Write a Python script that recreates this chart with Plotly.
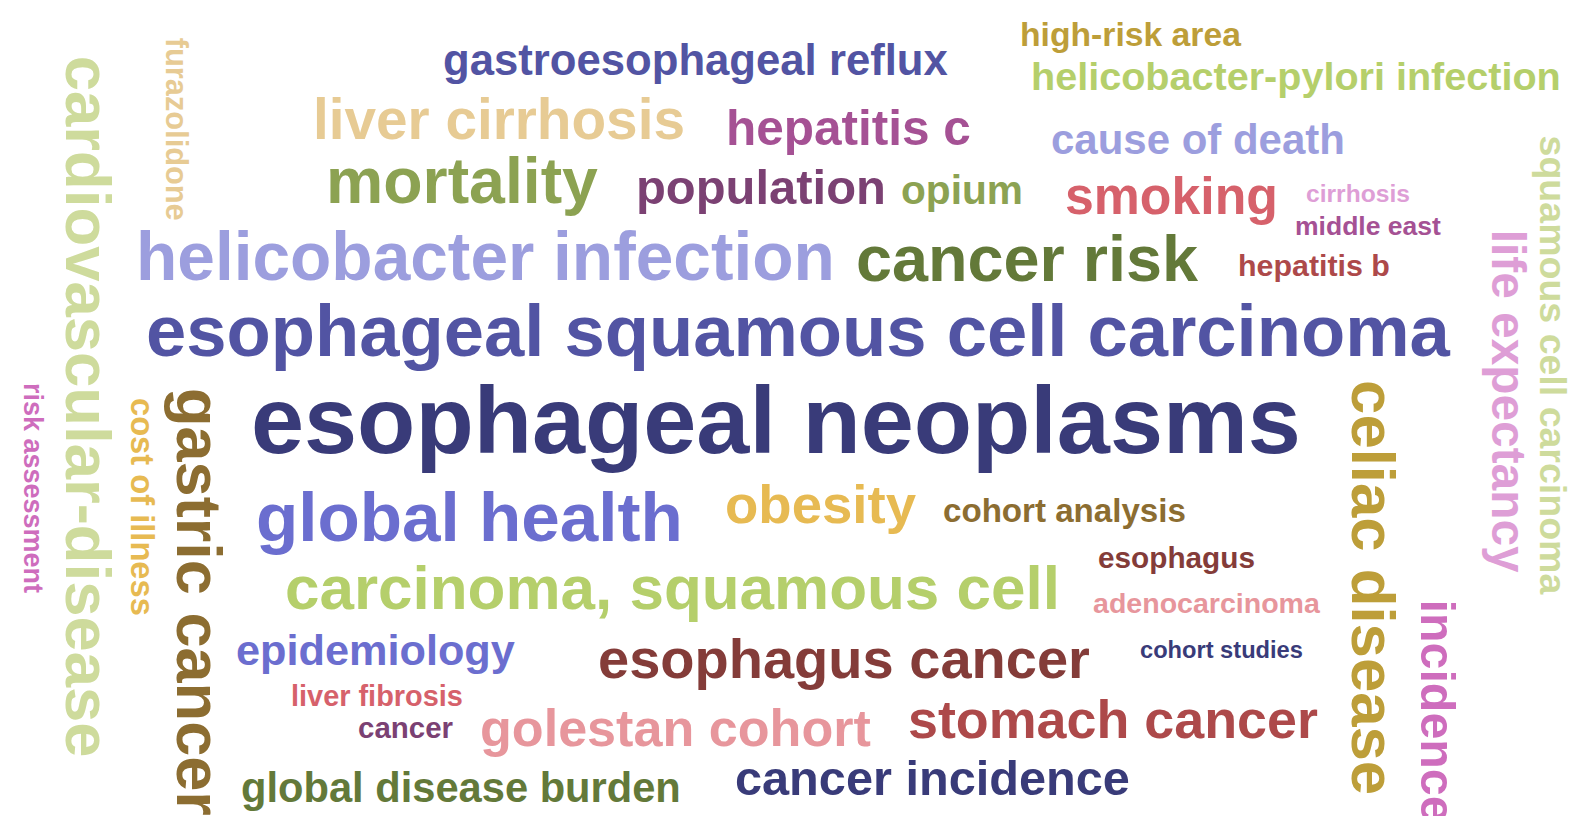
import plotly.graph_objects as go

# ---- data: keywords and their relative weights (word-cloud sizes) ----
words = [
    "esophageal neoplasms", "esophageal squamous cell carcinoma", "helicobacter infection",
    "cancer risk", "global health", "carcinoma, squamous cell", "esophagus cancer",
    "stomach cancer", "golestan cohort", "cancer incidence", "global disease burden",
    "epidemiology", "liver fibrosis", "cancer", "obesity", "cohort analysis", "esophagus",
    "adenocarcinoma", "cohort studies", "gastroesophageal reflux", "liver cirrhosis",
    "mortality", "hepatitis c", "population", "opium", "high-risk area",
    "helicobacter-pylori infection", "cause of death", "smoking", "cirrhosis",
    "middle east", "hepatitis b",
    "cardiovascular-disease", "furazolidone", "gastric cancer", "cost of illness",
    "risk assessment", "celiac disease", "life expectancy", "squamous cell carcinoma",
    "incidence",
]
weights = [
    86, 65, 59, 61, 62, 57, 45, 50, 44, 42, 38, 32, 27, 23, 48, 28, 26, 22, 20, 39, 50,
    55, 45, 45, 34, 30, 35, 39, 48, 22, 23, 25,
    57, 30, 52, 28, 22, 53, 43, 36, 43,
]
colors = [
    "#393b79", "#5254a3", "#9c9ede", "#637939", "#6b6ecf", "#b5cf6b", "#843c39",
    "#ad494a", "#e7969c", "#393b79", "#637939", "#6b6ecf", "#d6616b", "#7b4173",
    "#e7ba52", "#8c6d31", "#843c39", "#e7969c", "#393b79", "#5254a3", "#e7cb94",
    "#8ca252", "#a55194", "#7b4173", "#8ca252", "#bd9e39", "#b5cf6b", "#9c9ede",
    "#d6616b", "#de9ed6", "#a55194", "#ad494a",
    "#cedb9c", "#e7cb94", "#8c6d31", "#e7ba52", "#ce6dbd", "#bd9e39", "#de9ed6",
    "#cedb9c", "#ce6dbd",
]

# ---- cloud placement (pixel layout of the word cloud) ----
orient = [0] * 32 + [90] * 9
span_start = [
    243, 138, 128, 848, 248, 277, 590, 900, 472, 727, 233, 228, 283, 350, 717, 935,
    1090, 1085, 1132, 435, 305, 318, 718, 628, 893, 1012, 1023, 1043, 1057, 1298,
    1287, 1230,
    48, 30, 380, 390, 375, 372, 222, 128, 592,
]
span_end = [
    1293, 1442, 827, 1190, 675, 1052, 1082, 1310, 863, 1122, 673, 507, 455, 445, 908,
    1178, 1247, 1312, 1295, 940, 677, 590, 963, 878, 1015, 1233, 1553, 1337, 1270,
    1402, 1433, 1382,
    750, 213, 808, 608, 585, 787, 565, 587, 815,
]
baseline = [
    458, 357, 280, 283, 542, 610, 675, 737, 744, 792, 800, 660, 702, 732, 522, 518,
    563, 607, 653, 72, 138, 202, 143, 203, 200, 42, 87, 152, 213, 197, 230, 270,
    50, 153, 163, 120, 13, 1337, 1478, 1527, 1408,
]

W, H = 1579, 816
FONT = "Liberation Sans, Arial, sans-serif"

adv = {  # Liberation Sans Bold advance widths (per 1000 em)
    "a": 556, "b": 611, "c": 556, "d": 611, "e": 556, "f": 333, "g": 611, "h": 611,
    "i": 278, "j": 278, "k": 556, "l": 278, "m": 889, "n": 611, "o": 611, "p": 611,
    "q": 611, "r": 389, "s": 556, "t": 333, "u": 611, "v": 556, "w": 778, "x": 556,
    "y": 556, "z": 500, " ": 278, "-": 333, ",": 278,
}


def em_width(s):
    return sum(adv.get(ch, 556) for ch in s) / 1000.0


annotations = []
for w, wt, col, ang, s0, s1, bl in zip(words, weights, colors, orient,
                                        span_start, span_end, baseline):
    size = (s1 - s0) / em_width(w)
    mid = (s0 + s1) / 2.0
    off = 0.435 * wt + 0.0865 * size
    if ang == 0:
        xc, yc = mid, bl - off
    else:
        xc, yc = bl + off, mid
    annotations.append(dict(
        x=xc, y=yc, xref="x", yref="y", text=w, showarrow=False,
        xanchor="center", yanchor="middle", textangle=ang,
        font=dict(family=FONT, size=size, color=col, weight="bold"),
        hovertext=f"{w}: {wt}",
    ))

fig = go.Figure()
fig.add_trace(go.Scatter(x=[0, W], y=[0, H], mode="markers",
                         marker=dict(opacity=0), hoverinfo="skip", showlegend=False))
fig.update_layout(
    width=W, height=H, margin=dict(l=0, r=0, t=0, b=0),
    paper_bgcolor="white", plot_bgcolor="white",
    xaxis=dict(range=[0, W], visible=False, fixedrange=True),
    yaxis=dict(range=[H, 0], visible=False, fixedrange=True),
    annotations=annotations, showlegend=False,
)
fig.write_html("out.html")
